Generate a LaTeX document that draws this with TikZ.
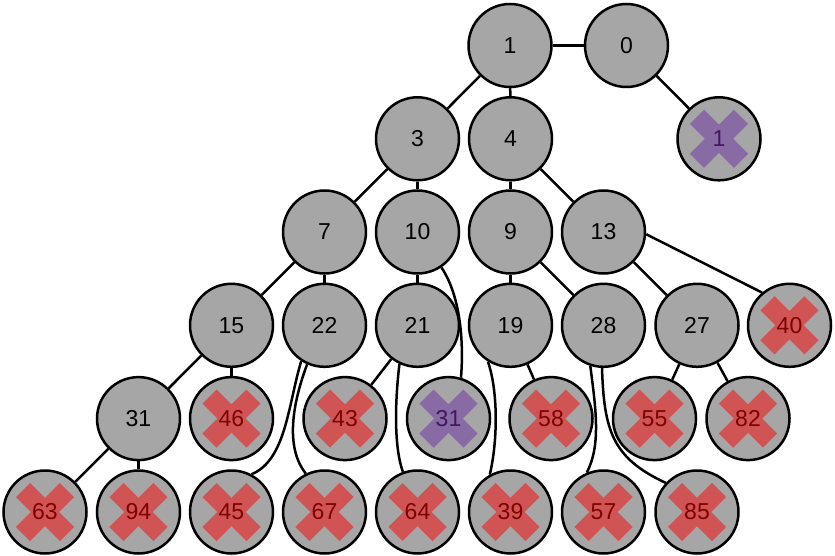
\documentclass[tikz,border=0pt]{standalone}
\usepackage{fontspec}
\setsansfont{Liberation Sans}
\definecolor{nodegray}{RGB}{166,166,166}
\definecolor{crossred}{RGB}{209,84,84}
\definecolor{textred}{RGB}{128,0,0}
\definecolor{crosspurple}{RGB}{136,106,164}
\definecolor{textpurple}{RGB}{64,24,92}
\begin{document}
\begin{tikzpicture}[x=1pt, y=-1pt,
        vertex/.style={circle, draw=black, line width=2.5pt, fill=nodegray, minimum size=83pt, inner sep=0pt, font=\sffamily\fontsize{23}{27}\selectfont},
        crossed/.style 2 args={vertex, text=#2, path picture={
            \draw[#1, line width=20pt] ([shift={(-22pt,-22pt)}]path picture bounding box.center) -- ([shift={(22pt,22pt)}]path picture bounding box.center);
            \draw[#1, line width=20pt] ([shift={(-22pt,22pt)}]path picture bounding box.center) -- ([shift={(22pt,-22pt)}]path picture bounding box.center);}},
        dead/.style={crossed={crossred}{textred}},
        gone/.style={crossed={crosspurple}{textpurple}},
        link/.style={line width=2.5pt}]
        \useasboundingbox (0,0) rectangle (835,556);

        % Row 1
        \node[vertex] (n1) at (510,45.5) {1};
        \node[vertex] (n0) at (626.5,45.5) {0};

        % Row 2
        \node[vertex] (n3) at (417.5,138.8) {3};
        \node[vertex] (n4) at (510.5,138.8) {4};
        \node[gone] (x1) at (719,138.8) {1};

        % Row 3
        \node[vertex] (n7) at (324.5,232) {7};
        \node[vertex] (n10) at (417.5,232) {10};
        \node[vertex] (n9) at (510.5,232) {9};
        \node[vertex] (n13) at (603.5,232) {13};

        % Row 4
        \node[vertex] (n15) at (231.5,325.3) {15};
        \node[vertex] (n22) at (324.5,325.3) {22};
        \node[vertex] (n21) at (417.5,325.3) {21};
        \node[vertex] (n19) at (510.5,325.3) {19};
        \node[vertex] (n28) at (603.5,325.3) {28};
        \node[vertex] (n27) at (697,325.3) {27};
        \node[dead] (n40) at (789.5,325.3) {40};

        % Row 5
        \node[vertex] (n31) at (138.5,418.6) {31};
        \node[dead] (n46) at (231.5,418.6) {46};
        \node[dead] (n43) at (345,418.6) {43};
        \node[gone] (x31) at (448.5,418.6) {31};
        \node[dead] (n58) at (551,418.6) {58};
        \node[dead] (n55) at (654.5,418.6) {55};
        \node[dead] (n82) at (748,418.6) {82};

        % Row 6
        \node[dead] (n63) at (45,512) {63};
        \node[dead] (n94) at (138.5,512) {94};
        \node[dead] (n45) at (231.5,512) {45};
        \node[dead] (n67) at (324.5,512) {67};
        \node[dead] (n64) at (417.5,512) {64};
        \node[dead] (n39) at (510.5,512) {39};
        \node[dead] (n57) at (603.5,512) {57};
        \node[dead] (n85) at (697,512) {85};

        % Straight edges
        \foreach \a/\b in {n1/n0, n0/x1, n1/n3, n1/n4, n3/n7, n3/n10, n4/n9, n4/n13,
                n7/n15, n7/n22, n10/n21, n9/n19, n9/n28, n13/n27,
                n15/n31, n15/n46, n21/n43, n19/n58, n27/n55, n27/n82, n31/n63, n31/n94}
            \draw[link] (\a) -- (\b);
        \draw[link] (n13.-3) -- (n40.130);

        % Curved edges
        \draw[link] (n10.-56) .. controls (460,295) and (464,340) .. (x31.73);
        \draw[link] (n22.-123) .. controls (288,405) and (286,460) .. (n45.62);
        \draw[link] (n22.-114) .. controls (290,410) and (287,450) .. (n67.116);
        \draw[link] (n21.-115) .. controls (394,410) and (395,450) .. (n64.110);
        \draw[link] (n19.-122) .. controls (498,390) and (498,440) .. (n39.119);
        \draw[link] (n28.-108) .. controls (596,410) and (601,445) .. (n57.113);
        \draw[link] (n28.-92) .. controls (604,430) and (612,458) .. (n85.137);
    \end{tikzpicture}
\end{document}
